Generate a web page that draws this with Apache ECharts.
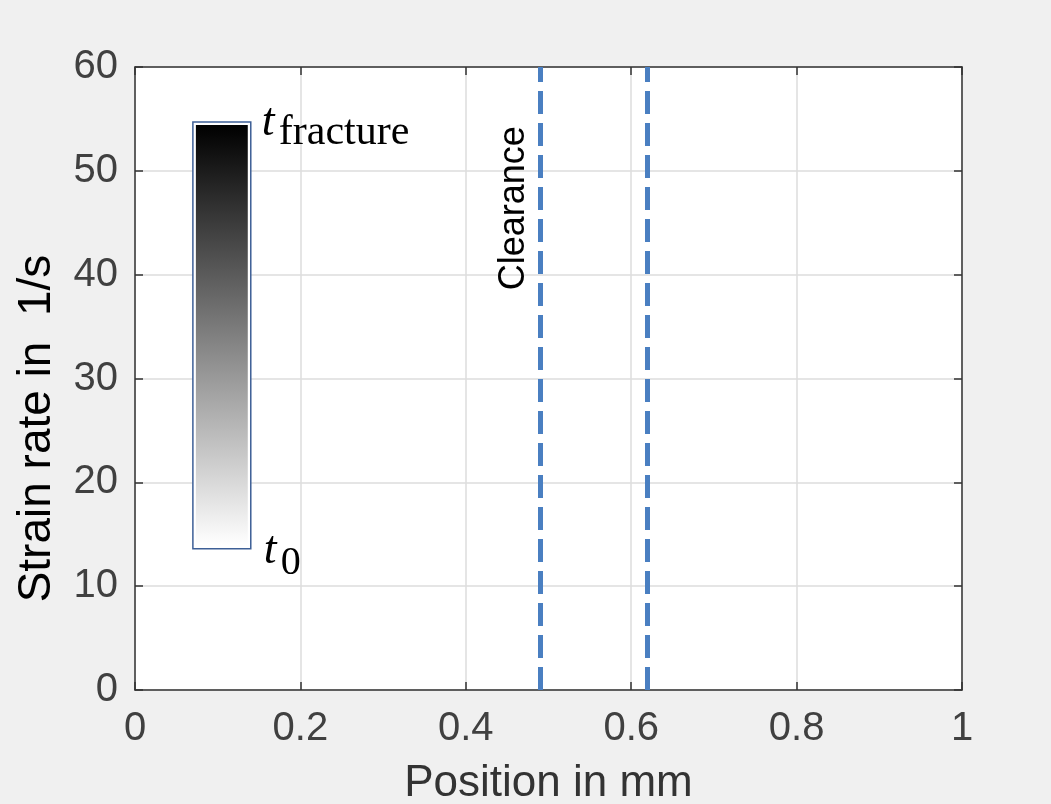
<!DOCTYPE html>
<html>
<head>
<meta charset="utf-8">
<script src="https://cdn.jsdelivr.net/npm/echarts@6/dist/echarts.min.js"></script>
<style>
  html, body { margin: 0; padding: 0; background: #f0f0f0; }
  #chart { width: 1051px; height: 804px; }
</style>
</head>
<body>
<div id="chart"></div>
<script>
// axis ranges
var xRange = [0, 1];
var yRange = [0, 60];
var xInterval = 0.2;
var yInterval = 10;
// clearance lines (position in mm)
var clearanceX = [0.49, 0.62];
var clearanceLabelPos = [0.458, 46.4];
// time colour bar: [x0, y0, x1, y1]
var colorBar = [0.07, 13.6, 0.14, 54.7];

var axisColor = '#333';
var font = 'Liberation Sans, Arial, sans-serif';
var serif = 'Liberation Serif, DejaVu Serif, serif';

var chart = echarts.init(document.getElementById('chart'));

function renderBar(params, api) {
  var tl = api.coord([colorBar[0], colorBar[3]]);
  var br = api.coord([colorBar[2], colorBar[1]]);
  var w = br[0] - tl[0], h = br[1] - tl[1];
  var lab = api.coord(clearanceLabelPos);
  return {
    type: 'group',
    children: [
      {
        type: 'rect',
        shape: { x: tl[0], y: tl[1], width: w, height: h },
        style: { fill: '#fff', stroke: '#3d5f96', lineWidth: 1.5 }
      },
      {
        type: 'rect',
        shape: { x: tl[0] + 3, y: tl[1] + 3, width: w - 6, height: h - 6 },
        style: {
          fill: new echarts.graphic.LinearGradient(0, 0, 0, 1, [
            { offset: 0, color: '#000' },
            { offset: 1, color: '#fff' }
          ])
        }
      },
      // t_fracture
      {
        type: 'text', x: br[0] + 11, y: tl[1] + 24,
        style: { text: 't', font: 'italic 46px ' + serif, fill: '#000', textVerticalAlign: 'bottom' }
      },
      {
        type: 'text', x: br[0] + 28, y: tl[1] + 32,
        style: { text: 'fracture', font: '42px ' + serif, fill: '#000', textVerticalAlign: 'bottom' }
      },
      // t_0
      {
        type: 'text', x: br[0] + 13, y: br[1] + 25,
        style: { text: 't', font: 'italic 46px ' + serif, fill: '#000', textVerticalAlign: 'bottom' }
      },
      {
        type: 'text', x: br[0] + 30, y: br[1] + 35,
        style: { text: '0', font: '40px ' + serif, fill: '#000', textVerticalAlign: 'bottom' }
      },
      // clearance label
      {
        type: 'text', x: lab[0], y: lab[1], rotation: Math.PI / 2,
        style: { text: 'Clearance', font: '36px ' + font, fill: '#000', align: 'center', verticalAlign: 'middle' }
      }
    ]
  };
}

var option = {
  backgroundColor: '#f0f0f0',
  animation: false,
  grid: {
    left: 135, right: 89, top: 67, bottom: 114,
    outerBoundsMode: 'none', containLabel: false,
    show: true, backgroundColor: '#fff', borderWidth: 0
  },
  xAxis: [
    {
      type: 'value', min: xRange[0], max: xRange[1], interval: xInterval,
      name: 'Position in mm', nameLocation: 'middle', nameGap: 72,
      nameTextStyle: { fontSize: 44, fontFamily: font, color: axisColor },
      axisLine: { onZero: false, lineStyle: { color: axisColor, width: 1.5 } },
      axisTick: { inside: true, length: 8, lineStyle: { color: axisColor, width: 1.5 } },
      axisLabel: { fontSize: 40, fontFamily: font, color: '#404040', margin: 19 },
      splitLine: { show: true, lineStyle: { color: '#dcdcdc', width: 1.5 } }
    },
    {
      type: 'value', position: 'top', min: xRange[0], max: xRange[1], interval: xInterval,
      axisLine: { show: true, onZero: false, lineStyle: { color: axisColor, width: 1.5 } },
      axisTick: { inside: true, length: 8, lineStyle: { color: axisColor, width: 1.5 } },
      axisLabel: { show: false }, splitLine: { show: false }
    }
  ],
  yAxis: [
    {
      type: 'value', min: yRange[0], max: yRange[1], interval: yInterval,
      name: 'Strain rate in  1/s', nameLocation: 'middle', nameGap: 75,
      nameTextStyle: { fontSize: 46, fontFamily: font, color: '#000', padding: [0, 100, 0, 0] },
      axisLine: { show: true, onZero: false, lineStyle: { color: axisColor, width: 1.5 } },
      axisTick: { show: true, inside: true, length: 8, lineStyle: { color: axisColor, width: 1.5 } },
      axisLabel: { fontSize: 40, fontFamily: font, color: '#404040', margin: 17 },
      splitLine: { show: true, lineStyle: { color: '#dcdcdc', width: 1.5 } }
    },
    {
      type: 'value', position: 'right', min: yRange[0], max: yRange[1], interval: yInterval,
      axisLine: { show: true, onZero: false, lineStyle: { color: axisColor, width: 1.5 } },
      axisTick: { show: true, inside: true, length: 8, lineStyle: { color: axisColor, width: 1.5 } },
      axisLabel: { show: false }, splitLine: { show: false }
    }
  ],
  series: [
    {
      type: 'custom',
      xAxisIndex: 0, yAxisIndex: 0,
      renderItem: renderBar,
      data: [colorBar],
      silent: true,
      markLine: {
        silent: true,
        symbol: 'none',
        label: { show: false },
        lineStyle: { color: '#4a7fc1', width: 5, type: [23, 9] },
        data: clearanceX.map(function (x) { return { xAxis: x }; })
      }
    }
  ]
};

chart.setOption(option);
</script>
</body>
</html>
